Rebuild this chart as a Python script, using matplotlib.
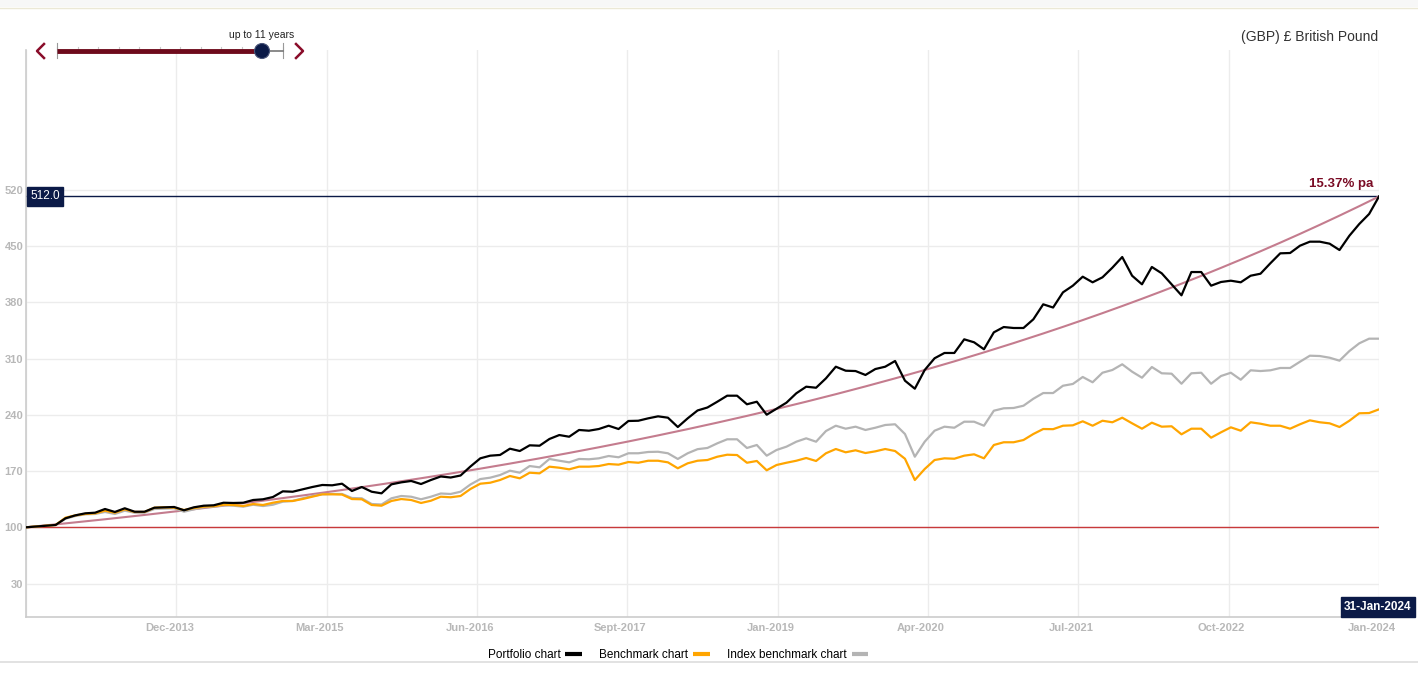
import numpy as np
import matplotlib
matplotlib.use("Agg")
import matplotlib.pyplot as plt
from matplotlib.lines import Line2D
from matplotlib.patches import Circle, Rectangle
from matplotlib.transforms import ScaledTranslation

plt.rcParams["font.family"] = ["Liberation Sans", "DejaVu Sans"]

# --- data (monthly, Aug-2012 .. Jan-2024, rebased to 100) ---
START_VALUE = 100.0
END_VALUE = 512.0
RATE_PA = 15.37
END_DATE = "31-Jan-2024"
CURRENCY = "(GBP) £ British Pound"
PERIOD = "up to 11 years"

portfolio = [
    100.0, 101.0, 102.0, 102.9, 111.2, 114.9, 117.4, 118.2, 122.8, 119.1,
    123.7, 119.4, 119.4, 124.4, 124.9, 125.3, 121.2, 124.9, 126.9, 127.4,
    130.6, 130.3, 130.6, 134.0, 134.9, 137.7, 144.8, 144.3, 147.3, 150.2,
    152.7, 152.3, 154.3, 145.2, 150.2, 144.3, 142.3, 153.5, 156.0, 157.7,
    153.9, 158.9, 163.3, 162.0, 164.5, 175.7, 185.9, 189.2, 190.1, 197.9,
    195.0, 202.1, 201.6, 210.0, 214.9, 212.8, 221.2, 220.3, 222.4, 226.5,
    222.4, 232.4, 232.7, 235.7, 238.2, 236.5, 224.9, 235.7, 245.5, 249.2,
    256.4, 263.9, 263.9, 253.2, 256.4, 240.2, 247.7, 255.2, 266.9, 275.1,
    273.8, 285.5, 300.0, 295.0, 294.6, 289.7, 297.1, 300.0, 307.1, 282.6,
    272.6, 295.9, 310.5, 317.1, 317.1, 334.1, 330.4, 321.7, 342.8, 349.4,
    348.2, 348.2, 359.0, 377.7, 373.7, 392.6, 400.9, 412.1, 405.1, 411.3,
    423.3, 436.6, 413.3, 402.6, 424.2, 416.3, 402.6, 388.9, 417.9, 417.9,
    400.9, 405.5, 407.1, 405.1, 413.3, 415.8, 428.8, 441.2, 441.6, 450.7,
    455.7, 455.7, 453.2, 445.3, 463.1, 477.7, 490.2, 512.0,
]

benchmark = [
    100.0, 101.0, 102.0, 102.9, 112.0, 114.9, 116.6, 117.4, 120.7, 118.2,
    122.4, 119.1, 119.1, 124.4, 124.9, 124.4, 121.5, 124.0, 125.7, 126.2,
    128.1, 127.8, 126.5, 129.0, 127.8, 130.6, 132.8, 132.8, 135.2, 138.1,
    141.1, 141.1, 140.8, 135.2, 134.9, 127.8, 126.9, 132.8, 135.2, 134.0,
    130.3, 133.1, 138.1, 137.4, 139.0, 147.7, 154.3, 155.5, 158.9, 163.9,
    161.0, 168.0, 167.2, 175.5, 174.2, 172.2, 175.5, 175.5, 176.3, 178.8,
    178.0, 181.3, 180.4, 182.9, 182.9, 180.9, 173.5, 179.7, 182.9, 183.8,
    187.9, 190.4, 190.0, 180.4, 182.6, 171.0, 177.6, 180.4, 182.9, 186.3,
    182.6, 192.2, 197.5, 193.4, 195.9, 192.5, 194.6, 197.5, 195.0, 185.4,
    158.9, 172.6, 183.8, 185.9, 185.4, 189.2, 190.9, 185.9, 202.5, 205.9,
    205.9, 208.7, 216.2, 222.4, 222.2, 226.5, 227.0, 232.0, 226.5, 232.7,
    230.8, 236.5, 229.5, 222.8, 230.3, 225.3, 225.8, 215.8, 222.8, 222.8,
    211.6, 218.3, 224.5, 220.3, 230.8, 229.0, 226.5, 226.5, 222.8, 228.3,
    233.2, 230.8, 229.5, 224.9, 232.7, 242.0, 242.3, 246.9,
]

index_benchmark = [
    100.0, 101.0, 102.0, 102.9, 110.7, 114.1, 116.2, 116.6, 119.1, 116.6,
    120.7, 118.2, 118.2, 122.8, 123.2, 123.7, 119.4, 122.4, 124.9, 125.7,
    127.4, 126.9, 125.7, 128.1, 126.5, 128.1, 131.9, 132.8, 136.1, 139.0,
    141.1, 141.5, 141.5, 136.5, 136.1, 129.0, 128.4, 136.1, 139.0, 138.1,
    134.9, 138.1, 142.1, 141.5, 144.3, 153.3, 160.1, 161.8, 165.1, 170.5,
    168.0, 176.3, 174.7, 185.1, 182.9, 180.9, 185.1, 184.7, 185.9, 188.8,
    187.2, 192.2, 192.2, 193.8, 194.1, 192.2, 185.1, 192.2, 197.3, 198.8,
    204.6, 209.6, 209.6, 198.8, 202.5, 189.2, 196.3, 200.4, 206.6, 210.8,
    206.6, 219.9, 226.5, 222.8, 225.3, 221.2, 224.0, 227.4, 228.3, 216.2,
    187.9, 206.6, 220.3, 225.3, 224.0, 231.5, 231.5, 226.5, 245.2, 248.2,
    248.6, 251.4, 260.1, 267.2, 267.2, 276.3, 278.5, 287.2, 280.6, 292.5,
    295.9, 303.0, 293.8, 286.3, 299.6, 291.8, 291.3, 278.8, 291.8, 292.5,
    278.8, 288.4, 292.5, 283.8, 295.5, 294.6, 295.5, 298.4, 298.4, 306.2,
    313.7, 313.3, 311.2, 307.5, 319.5, 329.1, 334.9, 334.9,
]

x_labels = ["", "Dec-2013", "Mar-2015", "Jun-2016", "Sept-2017", "Jan-2019",
            "Apr-2020", "Jul-2021", "Oct-2022", "Jan-2024"]
y_ticks = [30, 100, 170, 240, 310, 380, 450, 520]
legend_labels = ["Portfolio chart", "Benchmark chart", "Index benchmark chart"]

# --- colours ---
NAVY = "#0b1a47"
MAROON = "#7a0c25"
C_PORT = "#000000"
C_BENCH = "#ffa500"
C_INDEX = "#b4b4b4"
C_TREND = "#c47c8e"
C_BASE = "#c8393a"
TICK_GREY = "#b8b8b8"

W, H = 1418, 674
fig = plt.figure(figsize=(W / 100, H / 100), dpi=100)
ax = fig.add_axes([26 / W, 1 - 617 / H, (1379 - 26) / W, (617 - 50) / H])

months = np.arange(len(portfolio))
n_last = months[-1]
trend = START_VALUE * (END_VALUE / START_VALUE) ** (months / n_last)

ax.axhline(START_VALUE, color=C_BASE, lw=1.0, zorder=2)
ax.axhline(END_VALUE, color=NAVY, lw=1.0, zorder=2)
ax.plot(months, trend, color=C_TREND, lw=1.5, zorder=3)
ax.plot(months, index_benchmark, color=C_INDEX, lw=1.6, zorder=4)
ax.plot(months, benchmark, color=C_BENCH, lw=1.6, zorder=5)
ax.plot(months, portfolio, color=C_PORT, lw=1.6, zorder=6)

ax.set_xlim(0, n_last)
ax.set_ylim(-11.7, 694.4)
ax.set_xticks(np.linspace(0, n_last, len(x_labels)))
ax.set_xticklabels(x_labels)
ax.set_yticks(y_ticks)
ax.set_yticklabels([str(v) for v in y_ticks])
ax.grid(True, color="#ececec", lw=1.0, zorder=0)
ax.tick_params(length=0, labelcolor=TICK_GREY, labelsize=8)
ax.tick_params(axis="x", pad=4)
ax.tick_params(axis="y", pad=2)
for lbl in ax.get_xticklabels() + ax.get_yticklabels():
    lbl.set_fontweight("bold")
shift = ScaledTranslation(-7 / 100, 0, fig.dpi_scale_trans)
for lbl in ax.get_xticklabels():
    lbl.set_transform(lbl.get_transform() + shift)
for side in ("top", "right"):
    ax.spines[side].set_visible(False)
for side in ("left", "bottom"):
    ax.spines[side].set_color("#cccccc")
    ax.spines[side].set_linewidth(1.2)

# value tag on the left, rate on the right
ax.annotate(f"{END_VALUE:.1f}", xy=(0, END_VALUE), xytext=(3, 0),
            textcoords="offset points", ha="left", va="center",
            color="white", fontsize=8.5, zorder=10,
            bbox=dict(boxstyle="square,pad=0.3", fc=NAVY, ec=NAVY))
ax.annotate(f"{RATE_PA:.2f}% pa", xy=(n_last, END_VALUE), xytext=(-4, 9),
            textcoords="offset points", ha="right", va="center",
            color=MAROON, fontsize=9.5, fontweight="bold")

# legend (text first, swatch after)
handles = [Line2D([], [], color=c, lw=3, solid_capstyle="butt")
           for c in (C_PORT, C_BENCH, C_INDEX)]
ax.legend(handles, legend_labels, loc="center",
          bbox_to_anchor=(678 / W, 1 - 655 / H), bbox_transform=fig.transFigure,
          ncol=3, frameon=False, markerfirst=False, fontsize=8.5,
          handlelength=1.4, handletextpad=0.4, columnspacing=1.5)

# --- decorations in pixel space ---
ov = fig.add_axes([0, 0, 1, 1], zorder=20)
ov.set_xlim(0, W)
ov.set_ylim(H, 0)
ov.axis("off")
ov.patch.set_visible(False)

ov.add_patch(Rectangle((0, 0), W, 7, fc="#f7f7f7", ec="none"))
ov.plot([0, W], [7.5, 7.5], color="#ebe8d6", lw=1)
ov.plot([0, W], [662, 662], color="#dddddd", lw=1.2)

ov.text(1378, 37, CURRENCY, ha="right", va="center", fontsize=10, color="#333333")

# period slider
track_y = 51
ticks_x = np.linspace(57, 283, 12)
for tx in ticks_x:
    ov.plot([tx, tx], [track_y - 4, track_y], color="#c8c8c8", lw=0.8)
ov.plot([57, 57], [track_y - 8, track_y + 7], color="#999999", lw=0.8)
ov.plot([283, 283], [track_y - 8, track_y + 7], color="#999999", lw=0.8)
ov.plot([262, 283], [track_y, track_y], color="#777777", lw=1.2)
ov.plot([57, 262], [track_y, track_y], color="#6e0a1c", lw=3.5, solid_capstyle="butt")
ov.add_patch(Circle((262, track_y), 7.5, fc=NAVY, ec="#4a5578", lw=0.8, zorder=5))
ov.text(262, 35, PERIOD, ha="center", va="center", fontsize=7.5, color="#222222")
ov.plot([44, 37, 44], [track_y - 7, track_y, track_y + 7], color="#8a0d2a", lw=1.8)
ov.plot([296, 303, 296], [track_y - 7, track_y, track_y + 7], color="#8a0d2a", lw=1.8)

ov.text(1378, 607, END_DATE, ha="center", va="center", fontsize=8.5,
        color="white", fontweight="bold",
        bbox=dict(boxstyle="square,pad=0.3", fc=NAVY, ec=NAVY))

fig.savefig("out.png", dpi=100)
plt.close(fig)
